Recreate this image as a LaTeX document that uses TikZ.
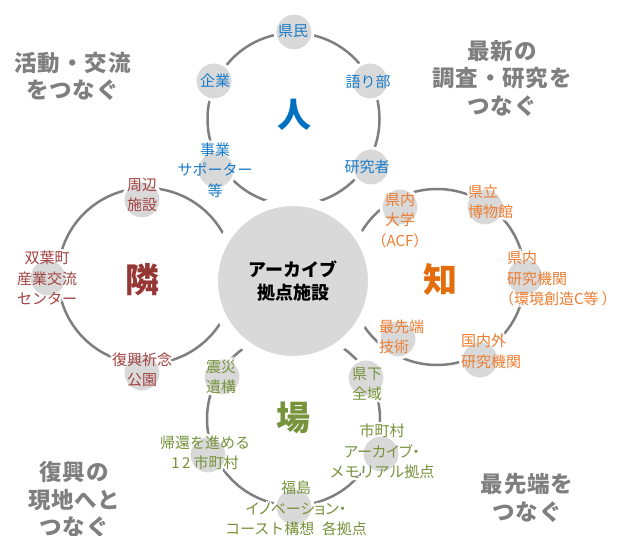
\documentclass[tikz,border=0pt]{standalone}
\usepackage{fontspec}
\setmainfont{Noto Sans CJK JP}
\newfontfamily\cornerfont{Noto Sans CJK JP}[LetterSpace=4]
\newfontfamily\paltfont{Noto Sans CJK JP}[RawFeature=+palt]
\definecolor{ringgray}{HTML}{7F7F7F}
\definecolor{diskgray}{HTML}{D9D9D9}
\definecolor{cblue}{HTML}{0070C0}
\definecolor{cred}{HTML}{953735}
\definecolor{corange}{HTML}{E46C0A}
\definecolor{cgreen}{HTML}{77933C}
\definecolor{tblue}{HTML}{1A7CC8}
\definecolor{tred}{HTML}{A04341}
\definecolor{torange}{HTML}{ED7D31}
\definecolor{tgreen}{HTML}{77933C}
\definecolor{textgray}{HTML}{7F7F7F}
\pgfdeclarelayer{rings}
\pgfdeclarelayer{halos}
\pgfdeclarelayer{disks}
\pgfsetlayers{rings,halos,disks,main}
\newsavebox\lblbox
\newcommand\lset[2]{\sbox\lblbox{\color{white}\begin{tabular}{@{}#1@{}}#2\end{tabular}}}
\newcommand\hc[2]{\rlap{\hspace*{#1}\raisebox{#2}{\usebox\lblbox}}}
\newcommand\halolbl[2][c]{\lset{#1}{#2}%
  \hc{2.5bp}{0bp}\hc{-2.5bp}{0bp}\hc{0bp}{2.5bp}\hc{0bp}{-2.5bp}%
  \hc{1.8bp}{1.8bp}\hc{-1.8bp}{1.8bp}\hc{1.8bp}{-1.8bp}\hc{-1.8bp}{-1.8bp}%
  \usebox\lblbox}
\newcommand\plainlbl[2][c]{\begin{tabular}{@{}#1@{}}#2\end{tabular}}
\newcommand\ringitem[7][c]{%
  \begin{pgfonlayer}{halos}
    \node[lbl, anchor=#5] (h#2) at (#4) {\halolbl[#1]{#7}};
  \end{pgfonlayer}
  \begin{pgfonlayer}{disks}
    \node[disk] (d#2) at (#3) {};
  \end{pgfonlayer}
  \node[lbl, anchor=#5, text=#6] (t#2) at (#4) {\plainlbl[#1]{#7}};
}
\begin{document}
\begin{tikzpicture}[x=1bp,y=-1bp,
  ringc/.style={circle, draw=ringgray, line width=2.5bp, inner sep=0, minimum size=#1},
  disk/.style={circle, fill=diskgray, draw=white, line width=3bp, minimum size=38bp, inner sep=0},
  hub/.style={circle, fill=diskgray, draw=white, line width=10bp, minimum size=160bp, inner sep=0,
    align=center, text=black, font=\bfseries\fontsize{18bp}{23bp}\selectfont},
  lbl/.style={inner sep=0, outer sep=0, font=\fontsize{15bp}{20.5bp}\selectfont},
  big/.style={inner sep=0, font=\bfseries\fontsize{34bp}{40bp}\selectfont},
  corner/.style={inner sep=0, align=center, text=textgray,
    font=\cornerfont\bfseries\fontsize{22.5bp}{27.5bp}\selectfont}]
\useasboundingbox (0,0) rectangle (623,536);
\begin{pgfonlayer}{rings}
  \node[ringc=172bp] (rP) at (293.5,119) {};
  \node[ringc=176bp] (rL) at (146,276) {};
  \node[ringc=176bp] (rK) at (437,277) {};
  \node[ringc=173bp] (rB) at (293.5,419) {};
\end{pgfonlayer}
\node[hub] (hub) at (293,281) {アーカイブ\\拠点施設};
% people
\ringitem{pA}{294,32}{293,32.5}{center}{tblue}{県民}
\ringitem{pB}{370,81}{368,83.5}{center}{tblue}{語り部}
\ringitem{pC}{371,167}{367,168.5}{center}{tblue}{研究者}
\ringitem{pD}{216,170}{215,171.5}{center}{tblue}{事業\\サポーター\\等}
\ringitem{pE}{214,81}{215,82.5}{center}{tblue}{企業}
% neighbours
\ringitem{lA}{142,200}{142,196.5}{center}{tred}{周辺\\施設}
\ringitem{lB}{48,278}{47,280}{center}{tred}{双葉町\\産業交流\\センター}
\ringitem{lC}{142,373}{142,371.5}{center}{tred}{復興祈念\\公園}
% knowledge
\ringitem{kA}{400,207}{400,221.5}{center}{torange}{県内\\大学\\（ACF）}
\ringitem[l]{kB}{485,207}{468,203.5}{west}{torange}{県立\\博物館}
\ringitem[l]{kC}{525,277}{507,280}{west}{torange}{県内\\研究機関\\\hspace*{-8bp}（環境創造C等\hspace{3bp}）}
\ringitem[l]{kD}{480,360}{461,353}{west}{torange}{国内外\\研究機関}
\ringitem[l]{kE}{398,339}{379,338.5}{west}{torange}{最先端\\技術}
% places
\ringitem{bA}{222,377}{221,378.5}{center}{tgreen}{震災\\遺構}
\ringitem{bB}{366,378}{367,385.5}{center}{tgreen}{県下\\全域}
\ringitem{bC}{381,454}{382,453}{center}{tgreen}{市町村\\{\paltfont アーカイブ・}\\メモリアル拠点}
\ringitem{bD}{294,507}{296,510}{center}{tgreen}{福島\\{\paltfont イノベーション・}\\コースト構想\hspace{7.5bp}各拠点}
\ringitem{bE}{208,455}{205,454.5}{center}{tgreen}{帰還を進める\\1\kern2.5bp 2\kern3bp 市町村}
% big labels
\node[big, text=cblue] (bigP) at (294,115) {人};
\node[big, text=cred] (bigL) at (142,280) {隣};
\node[big, text=corange] (bigK) at (440,280) {知};
\node[big, text=cgreen] (bigB) at (293,418) {場};
% corner texts
\node[corner] (cTL) at (72.5,76.5) {活動・交流\\をつなぐ};
\node[corner] (cTR) at (502,78.5) {最新の\\調査・研究を\\つなぐ};
\node[corner] (cBL) at (74,499.5) {復興の\\現地へと\\つなぐ};
\node[corner] (cBR) at (527,498) {最先端を\\つなぐ};
\end{tikzpicture}
\end{document}
